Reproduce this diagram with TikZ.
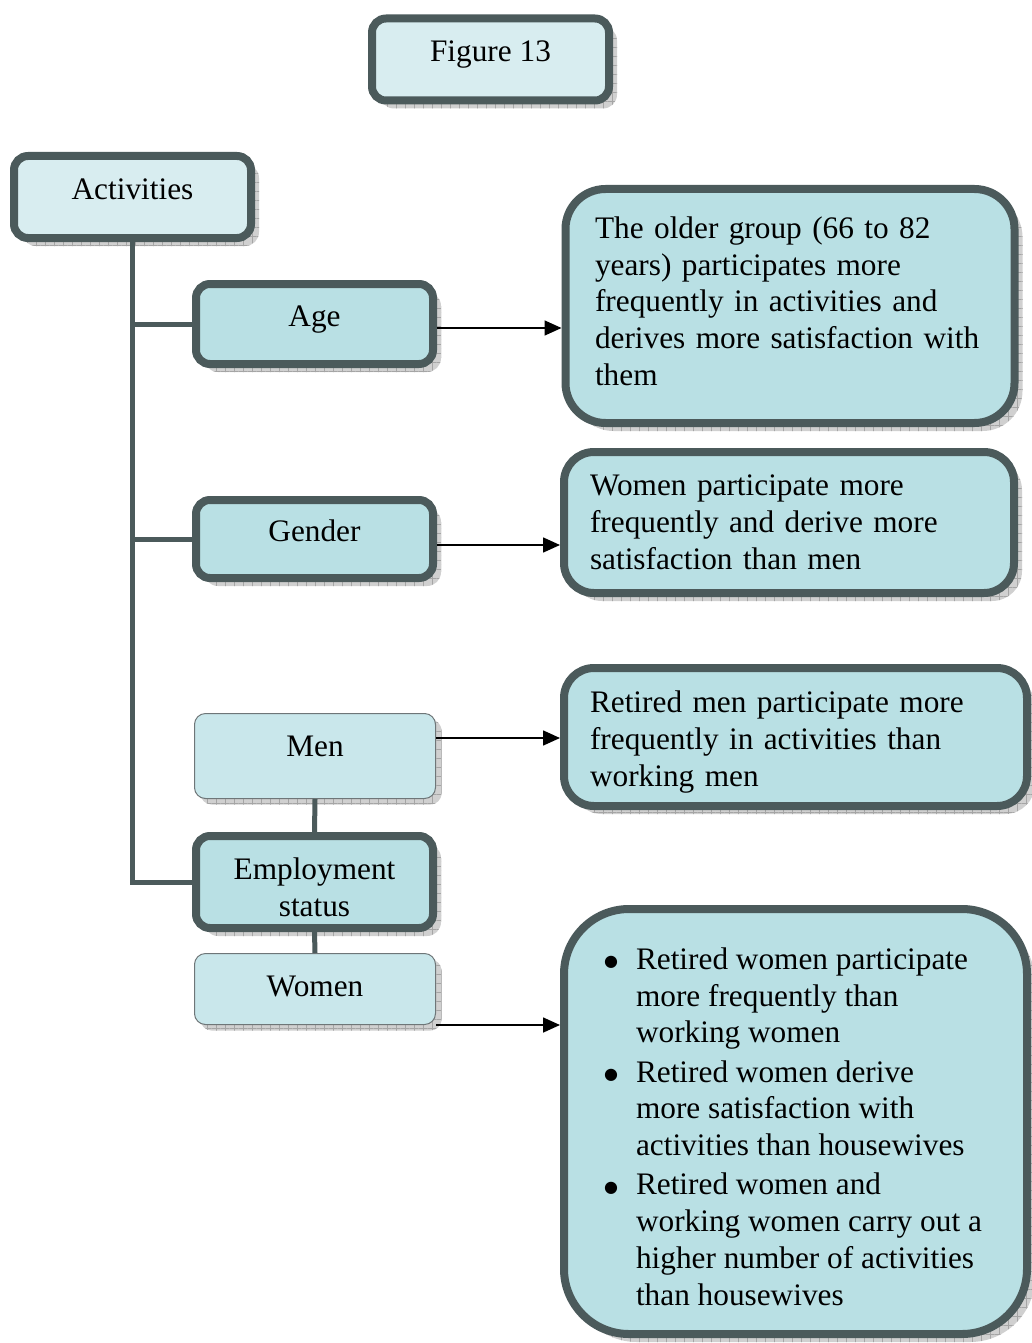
\documentclass[tikz,border=0pt]{standalone}
\usepackage{fontspec}
\setmainfont{Liberation Serif}
\newfontfamily\symfont{DejaVu Sans}
\usepackage{enumitem}
\usetikzlibrary{arrows.meta,patterns.meta,shadows}

\definecolor{edge}{RGB}{75,90,91}
\definecolor{paleblue}{RGB}{216,237,240}
\definecolor{tealfill}{RGB}{185,224,228}
\definecolor{softfill}{RGB}{201,231,235}
\definecolor{thinedge}{RGB}{110,118,120}
\definecolor{shadegray}{RGB}{208,208,208}
\definecolor{gridgray}{RGB}{165,165,165}

% raises the first line of a text block without changing line spacing
\newcommand{\toppad}{\rule{0pt}{32pt}}
% deepens the last line of a text block
\newcommand{\botpad}{\rule[-10pt]{0pt}{10pt}}
\newcommand{\bigdot}{\raisebox{2.5pt}{\fontsize{16pt}{16pt}\symfont ●}}

\tikzset{
  gridshadow/.style={
    general shadow={shadow xshift=#1, shadow yshift=-#1, fill=shadegray},
    general shadow={shadow xshift=#1, shadow yshift=-#1,
      pattern={Hatch[angle=0,distance=9pt,line width=0.6pt]}, pattern color=gridgray}},
  thickbox/.style={draw=edge, line width=8pt, rounded corners=14pt, gridshadow=8pt},
  headbox/.style={thickbox, fill=paleblue, minimum width=237pt, minimum height=82pt,
    text height=22pt, text depth=17pt},
  catbox/.style={thickbox, fill=tealfill, minimum width=237pt},
  oneline/.style={text height=22pt, text depth=#1},
  subbox/.style={draw=thinedge, line width=1pt, rounded corners=11pt, fill=softfill,
    minimum width=241pt, gridshadow=6pt},
  resbox/.style={draw=edge, line width=8pt, fill=tealfill, inner sep=0pt, align=left,
    gridshadow=8pt},
  trunk/.style={draw=edge, line width=5pt},
  arr/.style={draw=black, line width=1.6pt, -{Triangle[length=17pt,width=15pt]}}
}

\begin{document}
\begin{tikzpicture}[x=1pt,y=-1pt,
  every node/.style={font=\fontsize{31.3pt}{36.8pt}\selectfont, text=black}]
\useasboundingbox (0,0) rectangle (1032,1343);
\fill[white] (0,0) rectangle (1032,1343);

% title and root
\node[headbox] (fig) at (490.5,59.5) {Figure 13};
\node[headbox] (act) at (132.5,197) {Activities};

% factor boxes
\node[catbox, minimum height=80pt, oneline=17pt] (age) at (314.5,324) {Age};
\node[catbox, minimum height=78pt, oneline=17pt] (gen) at (314.5,539) {Gender};
\node[subbox, minimum height=85pt, oneline=21pt] (men) at (315,756) {Men};
\node[catbox, minimum height=92pt, align=center] (emp) at (314.5,882)
  {\toppad Employment\\status};
\node[subbox, minimum height=71pt, oneline=7pt] (wom) at (315,989) {Women};

% findings
\node[resbox, rounded corners=40pt, minimum width=449pt, minimum height=234pt,
  text width=390pt] (agr) at (790,306)
  {The older group (66 to 82\\years) participates more\\frequently in activities and\\derives more satisfaction with\\them\botpad};
\node[resbox, rounded corners=30pt, minimum width=450pt, minimum height=141pt,
  text width=398pt] (genr) at (789,522.5)
  {Women participate more\\frequently and derive more\\satisfaction than men};
\node[resbox, rounded corners=30pt, minimum width=463pt, minimum height=138pt,
  text width=411pt] (menr) at (795.5,737)
  {\toppad Retired men participate more\\frequently in activities than\\working men};
\node[resbox, rounded corners=65pt, minimum width=463pt, minimum height=425pt,
  align=none] (womr) at (795.5,1121.5)
  {\begin{minipage}{407pt}
   \begin{itemize}[leftmargin=44pt, rightmargin=0pt, labelsep=18pt,
     topsep=0pt, partopsep=0pt, parsep=0pt, itemsep=2.4pt, label=\bigdot]
   \item \toppad Retired women participate\newline more frequently than\newline working women
   \item Retired women derive\newline more satisfaction with\newline activities than housewives
   \item Retired women and\newline working women carry out a\newline higher number of activities\newline than housewives
   \end{itemize}
   \end{minipage}};

% tree connectors
\draw[trunk] (act.south) |- (age.west);
\draw[trunk] (act.south) |- (gen.west);
\draw[trunk] (act.south) |- (emp.west);
\draw[trunk] (men.south) -- (emp.north);
\draw[trunk] (emp.south) -- (wom.north);

% arrows to findings
\draw[arr] ([yshift=-4pt]age.east) -- ([yshift=-4pt]age.east -| agr.west);
\draw[arr] ([yshift=-6pt]gen.east) -- ([yshift=-6pt]gen.east -| genr.west);
\draw[arr] ([yshift=18pt]men.east) -- ([yshift=18pt]men.east -| menr.west);
\draw[arr] (wom.south east) -- (wom.south east -| womr.west);
\end{tikzpicture}
\end{document}
